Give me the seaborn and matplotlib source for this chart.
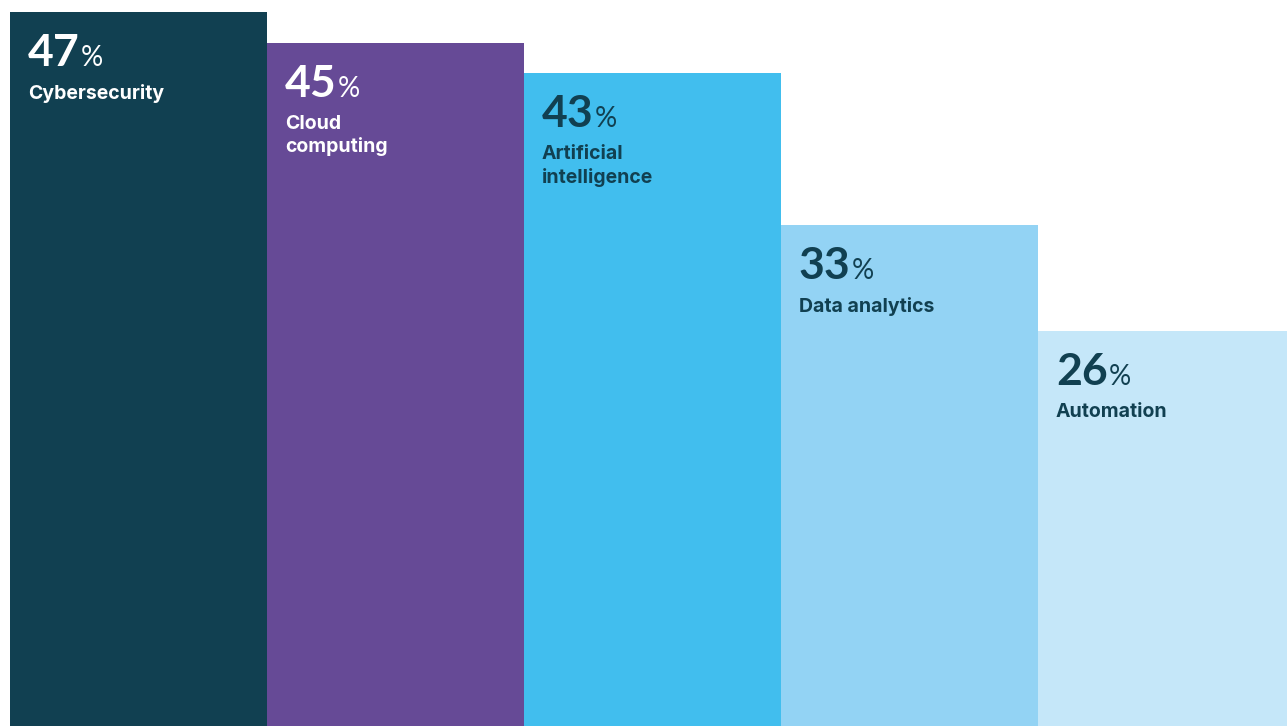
import matplotlib
matplotlib.use("Agg")
import matplotlib.pyplot as plt
import seaborn as sns
import pandas as pd

categories = ["Cybersecurity", "Cloud computing", "Artificial intelligence", "Data analytics", "Automation"]
labels = ["Cybersecurity", "Cloud\ncomputing", "Artificial\nintelligence", "Data analytics", "Automation"]
values = [47, 45, 43, 33, 26]
bar_colors = ["#114051", "#664A96", "#41BEEE", "#93D3F4", "#C5E7F9"]
text_colors = ["#FFFFFF", "#FFFFFF", "#114051", "#114051", "#114051"]

sns.set_theme(style="white")
plt.rcParams["font.family"] = ["Lato", "DejaVu Sans"]

df = pd.DataFrame({"category": categories, "value": values})

fig = plt.figure(figsize=(12.87, 7.26), dpi=100)
ax = fig.add_axes([10 / 1287, 0, 1277 / 1287, 1])
sns.barplot(data=df, x="category", y="value", hue="category",
            palette=bar_colors, width=1.0, saturation=1, legend=False,
            linewidth=0, ax=ax)

ax.set_xlim(-0.5, 4.47)
ax.set_ylim(0, 47.8)
ax.axis("off")

for i, (v, lab, tc) in enumerate(zip(values, labels, text_colors)):
    num = ax.annotate(f"{v}", xy=(i - 0.5, v), xytext=(18, -54),
                      textcoords="offset pixels", ha="left", va="baseline",
                      fontsize=32, fontweight="bold", color=tc)
    ax.annotate("%", xy=(1, v), xycoords=(num, "data"), xytext=(1, -54),
                textcoords="offset pixels", ha="left", va="baseline",
                fontsize=20, fontweight="normal", color=tc)
    ax.annotate(lab, xy=(i - 0.5, v), xytext=(18, -72),
                textcoords="offset pixels", ha="left", va="top",
                fontsize=14, fontweight="bold", color=tc, linespacing=1.32,
                family=["Inter", "DejaVu Sans"])

fig.savefig("out.png", dpi=100)
